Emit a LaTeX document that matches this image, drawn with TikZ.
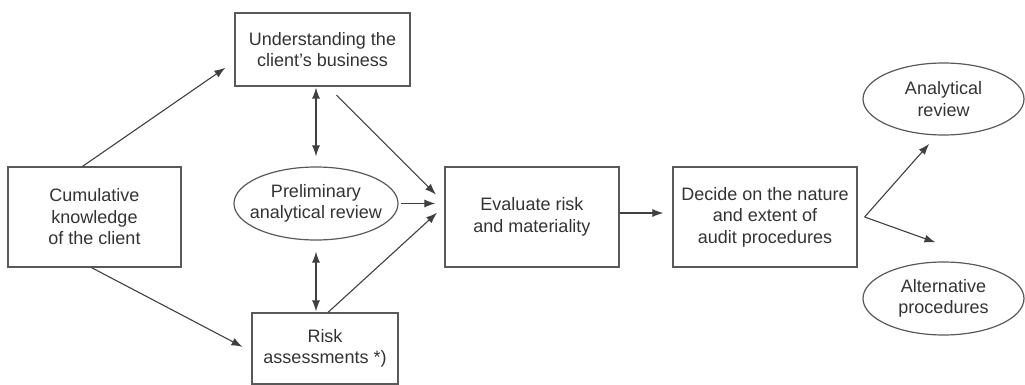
\documentclass[tikz,border=0pt]{standalone}
\usepackage{fontspec}
\setmainfont{Liberation Sans}
\usetikzlibrary{arrows.meta,shapes.geometric}
\begin{document}
\begin{tikzpicture}[
    x=1pt, y=-1pt,
    font=\fontsize{18}{21.5}\selectfont,
    text=black!80,
    kasten/.style={draw=black!65, line width=1.2pt, align=center, inner sep=0pt},
    oval/.style={ellipse, draw=black!65, line width=1.2pt, align=center, inner sep=0pt},
    pfeil/.style={-{Latex[length=11pt,width=8pt]}, draw=black!75, line width=1.1pt},
    doppelpfeil/.style={{Latex[length=11pt,width=8pt]}-{Latex[length=11pt,width=8pt]}, draw=black!75, line width=1.1pt}
  ]
  \useasboundingbox (0,0) rectangle (1025,385);

  \node[kasten, minimum width=173pt, minimum height=100pt] (wissen) at (94.5,217) {Cumulative\\ knowledge\\ of the client};
  \node[kasten, minimum width=175pt, minimum height=73pt] (verstehen) at (322.5,49.5) {Understanding the\\ client's business};
  \node[oval, minimum width=164pt, minimum height=73pt,
        label={[align=center]center:Preliminary\\ analytical review}] (vorab) at (316,203.5) {};
  \node[kasten, minimum width=146pt, minimum height=71pt] (risiko) at (325,348.5) {Risk\\ assessments *)};
  \node[kasten, minimum width=174pt, minimum height=100pt] (bewerten) at (532,217) {Evaluate risk\\ and materiality};
  \node[kasten, minimum width=184pt, minimum height=100pt] (entscheiden) at (765,217) {Decide on the nature\\ and extent of\\ audit procedures};
  \node[oval, minimum width=161pt, minimum height=72pt] (analytisch) at (943.5,99) {Analytical\\ review};
  \node[oval, minimum width=161pt, minimum height=73pt] (alternativ) at (943.5,298.5) {Alternative\\ procedures};

  \draw[pfeil, shorten >=11pt] ([xshift=-12pt]wissen.north) -- ([yshift=-12pt]verstehen.west);
  \draw[pfeil, shorten >=10pt] ([xshift=-3pt]wissen.south) -- ([yshift=-3pt]risiko.west);
  \draw[doppelpfeil, shorten <=1pt, shorten >=10pt] (verstehen.south -| vorab.north) -- (vorab.north);
  \draw[doppelpfeil, shorten <=11pt, shorten >=1pt] (vorab.south) -- (vorab.south |- risiko.north);

  \draw[pfeil, shorten <=12pt, shorten >=12pt] ([xshift=5.5pt]verstehen.south) -- ([yshift=14pt]bewerten.west);
  \draw[pfeil, shorten <=2pt, shorten >=9pt] (vorab.east) -- (vorab.east -| bewerten.west);
  \draw[pfeil, shorten >=10pt] ([xshift=3pt]risiko.north) -- ([yshift=11pt]bewerten.west);

  \draw[pfeil, shorten >=9pt] ([yshift=4pt]bewerten.east) -- ([yshift=4pt]entscheiden.west);

  \coordinate (gabel) at ([xshift=7pt]entscheiden.east);
  \draw[pfeil, shorten >=11pt] (gabel) -- ([xshift=-7pt]analytisch.south);
  \draw[pfeil] (gabel) -- ([shift={(-8pt,19pt)}]alternativ.north);
\end{tikzpicture}
\end{document}
